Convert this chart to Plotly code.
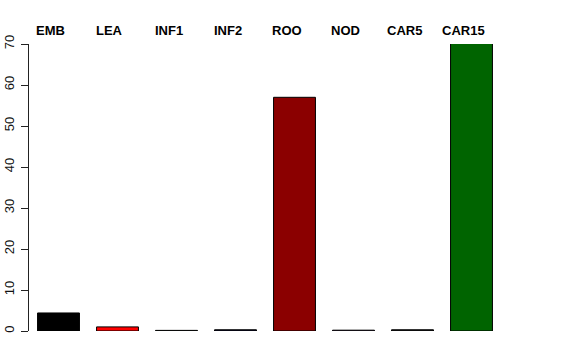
import plotly.graph_objects as go

categories = ["EMB", "LEA", "INF1", "INF2", "ROO", "NOD", "CAR5", "CAR15"]
values = [4.4, 1.0, 0.15, 0.3, 57.0, 0.2, 0.3, 70.3]
colors = ["#000000", "#FF0000", "#2E5E2E", "#101030", "#8B0000", "#4B2A5E", "#202020", "#006400"]
y_ticks = [0, 10, 20, 30, 40, 50, 60, 70]

fig = go.Figure()
fig.add_trace(go.Bar(
    x=categories, y=values,
    marker=dict(color=colors, line=dict(color="black", width=1)),
    showlegend=False, hoverinfo="x+y", cliponaxis=False,
))

for c in categories:
    fig.add_annotation(x=c, y=1.047, xref="x", yref="paper", text="<b>%s</b>" % c,
                       showarrow=False, xshift=-8, yanchor="middle", xanchor="center",
                       font=dict(family="Liberation Sans, Arial, sans-serif", size=13, color="black"))

fig.update_layout(
    width=576, height=360,
    margin=dict(l=29, r=75, t=44, b=29, autoexpand=False),
    paper_bgcolor="white", plot_bgcolor="white",
    bargap=0.29,
    font=dict(family="Liberation Sans, Arial, sans-serif", size=12, color="black"),
    xaxis=dict(showticklabels=False, showgrid=False, zeroline=False, showline=False,
               ticks="", range=[-0.5, 7.5], automargin=False),
    yaxis=dict(range=[0, 70], tickvals=y_ticks, ticktext=[str(v) for v in y_ticks],
               showgrid=False, zeroline=False, showline=True, linecolor="#222222", linewidth=1,
               ticks="outside", ticklen=7, tickcolor="#222222", tickwidth=1,
               tickangle=-90, tickfont=dict(size=13, color="#111111"),
               ticklabelstandoff=2, automargin=False),
)

fig.write_html("out.html")
